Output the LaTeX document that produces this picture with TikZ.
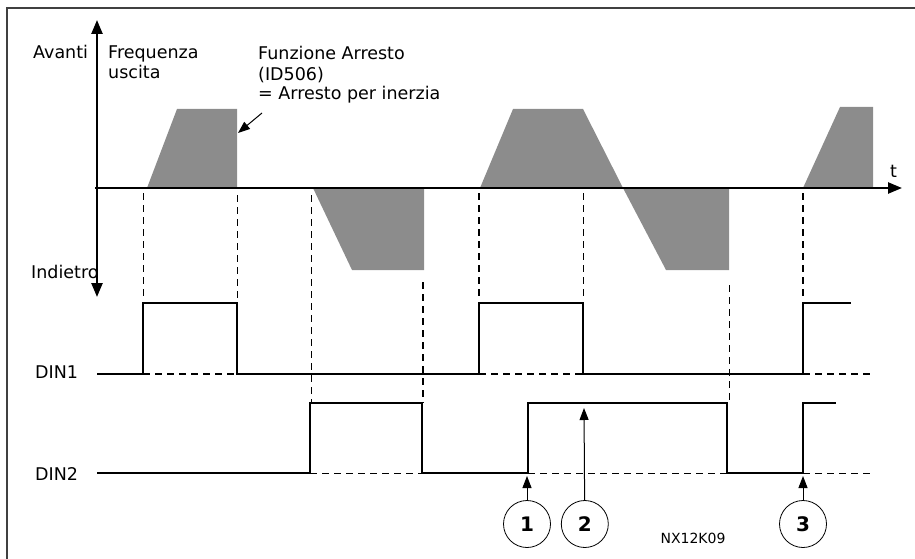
\documentclass[tikz,border=0pt]{standalone}
\usepackage{fontspec}
\setmainfont{DejaVu Sans}
\usetikzlibrary{arrows.meta, positioning}

\begin{document}
\begin{tikzpicture}[
    x=1pt, y=-1pt,
    >={Triangle[length=14pt,width=11pt]},
    axis/.style={
        line width=2.4pt
    },
    signal/.style={
        line width=2.8pt,
        line join=miter
    },
    guide/.style={
        line width=0.9pt,
        dash pattern=on 7pt off 5pt
    },
    guidebold/.style={
        guide,
        line width=1.8pt
    },
    ramp/.style={
        fill=black!45
    },
    txt/.style={
        font=\fontsize{17.5}{20}\selectfont,
        inner sep=0pt,
        anchor=base west,
        align=left
    },
    marker/.style={
        circle,
        draw,
        line width=0.8pt,
        minimum size=47pt,
        inner sep=0pt,
        font=\fontsize{20}{20}\selectfont\bfseries
    },
    pointer/.style={
        -{Triangle[length=12pt,width=9pt]},
        line width=1pt
    }
]
    \useasboundingbox (0,0) rectangle (915,559);

    % Frame
    \draw[line width=2pt, black!75] (915,8) -- (7,8) -- (7,559);

    % Output frequency
    \fill[ramp] (147,188) -- (177,109) -- (237,109) -- (237,188) -- cycle;
    \fill[ramp] (313,188) -- (352,270) -- (424,270) -- (424,188) -- cycle;
    \fill[ramp] (480,188) -- (513,109) -- (583,109) -- (623,188) -- cycle;
    \fill[ramp] (623,188) -- (666,270) -- (729,270) -- (729,188) -- cycle;
    \fill[ramp] (803,188) -- (840,107) -- (873,107) -- (873,188) -- cycle;

    % Axes
    \draw[axis, <->] (97,297) -- (97,20);
    \draw[axis, ->] (95,188) -- (902,188);

    % Guides
    \draw[guide] (143,193) -- (143,300);
    \draw[guide] (237,195) -- (237,300);
    \draw[guide] (311,195) -- (311,403);
    \draw[guidebold] (423,282) -- (423,403);
    \draw[guidebold] (479,193) -- (479,300);
    \draw[guide] (583,193) -- (583,300);
    \draw[guide] (729,285) -- (729,400);
    \draw[guidebold] (803,193) -- (803,300);

    % DIN1
    \draw[guidebold] (143,374) -- (237,374);
    \draw[guidebold] (479,374) -- (583,374);
    \draw[guidebold] (803,374) -- (873,374);
    \draw[signal] (97,374) -- (143,374) -- (143,303) -- (237,303) -- (237,374)
        -- (479,374) -- (479,303) -- (583,303) -- (583,374)
        -- (803,374) -- (803,303) -- (851,303);

    % DIN2
    \draw[guide] (310,473) -- (422,473);
    \draw[guide] (528,473) -- (727,473);
    \draw[guide] (803,473) -- (873,473);
    \draw[signal] (97,473) -- (310,473) -- (310,403) -- (422,403) -- (422,473)
        -- (528,473) -- (528,403) -- (727,403) -- (727,473)
        -- (803,473) -- (803,403) -- (836,403);

    % Labels
    \node[txt] (fwd) at (33,59) {Avanti};
    \node[txt] (freq) at (108,79) {Frequenza\\uscita};
    \node[txt] (stopfn) at (258,100) {Funzione Arresto\\(ID506)\\= Arresto per inerzia};
    \node[txt] (rev) at (31,278) {Indietro};
    \node[txt] (din1) at (35,378) {DIN1};
    \node[txt] (din2) at (35,480) {DIN2};
    \node[txt] (tlab) at (890,177) {t};
    \node[font=\fontsize{14}{14}\selectfont, inner sep=0pt] (code) at (693,538) {NX12K09};

    % Stop function pointer
    \coordinate (stopfrom) at (262,113);
    \coordinate (stoptip) at (238,133);
    \draw[pointer] (stopfrom) -- (stoptip);

    % Markers
    \node[marker] (m1) at (527,524) {1};
    \node[marker, right=10pt of m1] (m2) {2};
    \node[marker] (m3) at (803,524) {3};
    \coordinate (p1) at (527,476);
    \coordinate (p2) at (584,408);
    \coordinate (p3) at (803,476);
    \draw[pointer] (m1) -- (p1);
    \draw[pointer] (m2) -- (p2);
    \draw[pointer] (m3) -- (p3);

\end{tikzpicture}
\end{document}
